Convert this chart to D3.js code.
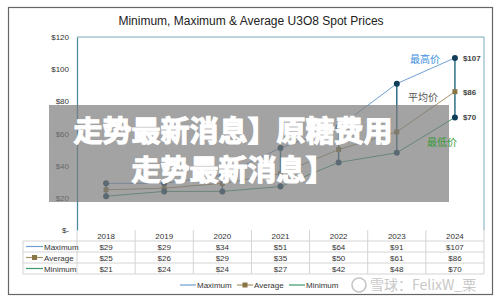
<!DOCTYPE html>
<html>
<head>
<meta charset="utf-8">
<script src="https://cdn.jsdelivr.net/npm/d3@7"></script>
<style>
  body { margin: 0; background: #fff; }
  svg { display: block; font-family: "Liberation Sans", Arial, sans-serif; }
</style>
</head>
<body>
<div id="chart"></div>
<script>
//// DATA

const YEARS = ["2018", "2019", "2020", "2021", "2022", "2023", "2024"];
const MAXIMUM = [29, 29, 34, 51, 64, 91, 107];
const AVERAGE = [25, 26, 29, 35, 50, 61, 86];
const MINIMUM = [21, 24, 24, 27, 42, 48, 70];
const Y_TICKS = [0, 20, 40, 60, 80, 100, 120];

const SERIES = [
  { name: "Maximum", values: MAXIMUM, color: "#6f9fd2", marker: "circle", cn: "最高价", cnColor: "#3d8fe0" },
  { name: "Average", values: AVERAGE, color: "#a89466", marker: "square", cn: "平均价", cnColor: "#555" },
  { name: "Minimum", values: MINIMUM, color: "#3c9a6c", marker: "circle", cn: "最低价", cnColor: "#3a9a3a" },
];

const TITLE = "Minimum, Maximum & Average U3O8 Spot Prices";
const OVERLAY_LINE1 = "走势最新消息】原糖费用";
const OVERLAY_LINE2 = "走势最新消息】";

//////////////
const W = 500, H = 306;
const PLOT = { left: 77, right: 484, top: 37, bottom: 230 };
const ROW_H = 11;
const TABLE_LEFT = 23;
const MARKER_DARK = "#0f3d5a";

const svg = d3.select("#chart").append("svg")
  .attr("width", W).attr("height", H)
  .attr("viewBox", `0 0 ${W} ${H}`);

const x = d3.scaleBand().domain(YEARS).range([PLOT.left, PLOT.right]);
const y = d3.scaleLinear().domain([0, 120]).range([PLOT.bottom, PLOT.top]);
const cx = d => x(d) + x.bandwidth() / 2;

// outer frame
svg.append("rect")
  .attr("x", 8.5).attr("y", 7.5).attr("width", 484).attr("height", 287)
  .attr("fill", "#fff").attr("stroke", "#666").attr("stroke-width", 1.2);

svg.append("text")
  .attr("x", 251).attr("y", 25)
  .attr("text-anchor", "middle")
  .attr("font-size", 12).attr("fill", "#222")
  .text(TITLE);

// plot frame
svg.append("path")
  .attr("d", `M${PLOT.left},${PLOT.top}H${PLOT.right}V${PLOT.bottom}`)
  .attr("fill", "none").attr("stroke", "#7aa9bb").attr("stroke-width", 1);

const yAxis = d3.axisLeft(y).tickValues(Y_TICKS).tickSize(0).tickPadding(8)
  .tickFormat(v => v === 0 ? "$-  " : "$" + v);
svg.append("g")
  .attr("transform", `translate(${PLOT.left},0)`)
  .call(yAxis)
  .call(g => g.select(".domain").attr("stroke", "#4f8aa0").attr("stroke-width", 1.3))
  .call(g => g.selectAll("text").attr("font-size", 8).attr("fill", "#333")
    .attr("font-family", "Liberation Sans, Arial, sans-serif"));

// high-low lines
svg.append("g").selectAll("line")
  .data(YEARS)
  .join("line")
  .attr("x1", cx).attr("x2", cx)
  .attr("y1", (d, i) => y(MAXIMUM[i]))
  .attr("y2", (d, i) => y(MINIMUM[i]))
  .attr("stroke", "#2f6f86").attr("stroke-width", 1.5);

// series lines + markers
const line = d3.line().x((v, i) => cx(YEARS[i])).y(v => y(v));
SERIES.forEach(s => {
  svg.append("path")
    .datum(s.values)
    .attr("d", line)
    .attr("fill", "none").attr("stroke", s.color).attr("stroke-width", 1);
  const g = svg.append("g");
  if (s.marker === "circle") {
    g.selectAll("circle").data(s.values).join("circle")
      .attr("cx", (v, i) => cx(YEARS[i])).attr("cy", v => y(v))
      .attr("r", 3).attr("fill", MARKER_DARK);
  } else {
    g.selectAll("rect").data(s.values).join("rect")
      .attr("x", (v, i) => cx(YEARS[i]) - 2.5).attr("y", v => y(v) - 2.5)
      .attr("width", 5).attr("height", 5).attr("fill", "#8a7544");
  }
});

// end labels
const last = YEARS.length - 1;
svg.append("g").selectAll("text")
  .data(SERIES)
  .join("text")
  .attr("x", cx(YEARS[last]) + 8)
  .attr("y", s => y(s.values[last]) + 3)
  .attr("font-size", 8).attr("font-weight", "bold").attr("fill", "#444")
  .text(s => "$" + s.values[last]);

// data table
const table = svg.append("g").attr("font-size", 8).attr("fill", "#333");
const gridColor = "#d4d4d4";
const nRows = SERIES.length + 1;
d3.range(1, nRows + 1).forEach(r => {
  const yy = PLOT.bottom + r * ROW_H;
  table.append("line")
    .attr("x1", TABLE_LEFT).attr("x2", PLOT.right)
    .attr("y1", yy).attr("y2", yy)
    .attr("stroke", gridColor).attr("stroke-width", 1);
});
table.append("line")
  .attr("x1", TABLE_LEFT).attr("x2", TABLE_LEFT)
  .attr("y1", PLOT.bottom + ROW_H).attr("y2", PLOT.bottom + nRows * ROW_H)
  .attr("stroke", gridColor);
d3.range(YEARS.length + 1).forEach(i => {
  const xx = PLOT.left + i * x.bandwidth();
  table.append("line")
    .attr("x1", xx).attr("x2", xx)
    .attr("y1", PLOT.bottom).attr("y2", PLOT.bottom + nRows * ROW_H)
    .attr("stroke", gridColor);
});
table.selectAll(".hdr").data(YEARS).join("text")
  .attr("class", "hdr")
  .attr("x", cx).attr("y", PLOT.bottom + 8.5)
  .attr("text-anchor", "middle").attr("fill", "#333")
  .text(d => d);
SERIES.forEach((s, r) => {
  const rowY = PLOT.bottom + (r + 1) * ROW_H;
  const keyY = rowY + ROW_H / 2;
  table.append("line")
    .attr("x1", TABLE_LEFT + 3).attr("x2", TABLE_LEFT + 20)
    .attr("y1", keyY).attr("y2", keyY)
    .attr("stroke", s.color).attr("stroke-width", 1.2);
  if (s.marker === "square") {
    table.append("rect")
      .attr("x", TABLE_LEFT + 9).attr("y", keyY - 2.5).attr("width", 5).attr("height", 5)
      .attr("fill", "#8a7544");
  }
  table.append("text")
    .attr("x", TABLE_LEFT + 21).attr("y", rowY + 8.5)
    .attr("fill", "#333")
    .text(s.name);
  table.selectAll(null).data(s.values).join("text")
    .attr("x", (v, i) => cx(YEARS[i])).attr("y", rowY + 8.5)
    .attr("text-anchor", "middle").attr("fill", "#333")
    .text(v => "$" + v);
});

// bottom legend
const LEGEND_X = [180, 237, 289];
const legend = svg.append("g").attr("font-size", 8).attr("fill", "#333");
SERIES.forEach((s, i) => {
  const lx = LEGEND_X[i], ly = 285;
  legend.append("line")
    .attr("x1", lx).attr("x2", lx + 16).attr("y1", ly).attr("y2", ly)
    .attr("stroke", s.color).attr("stroke-width", 1.2);
  if (s.marker === "square") {
    legend.append("rect")
      .attr("x", lx + 5.5).attr("y", ly - 2.5).attr("width", 5).attr("height", 5)
      .attr("fill", "#8a7544");
  }
  legend.append("text")
    .attr("x", lx + 17).attr("y", ly + 3)
    .attr("fill", "#333")
    .text(s.name);
});

// watermark
const wm = svg.append("g");
wm.append("circle")
  .attr("cx", 359).attr("cy", 285).attr("r", 7)
  .attr("fill", "none").attr("stroke", "#c4c4c4").attr("stroke-width", 1.6);
wm.append("text")
  .attr("x", 370).attr("y", 290)
  .attr("font-family", "Noto Sans CJK SC").attr("font-size", 14)
  .attr("fill", "#c8c8c8")
  .text("雪球：FelixW_栗");

// overlay banner
svg.append("rect")
  .attr("x", 49).attr("y", 105).attr("width", 400).attr("height", 97)
  .attr("fill", "#7c7c7c").attr("opacity", 0.7);
const banner = svg.append("g")
  .attr("font-family", "Noto Sans CJK SC").attr("font-weight", "bold")
  .attr("font-size", 29).attr("fill", "#fff").attr("stroke", "#fff")
  .attr("stroke-width", 1.2).attr("text-anchor", "middle");
banner.append("text").attr("x", 233).attr("y", 142).text(OVERLAY_LINE1);
banner.append("text").attr("x", 233).attr("y", 181).text(OVERLAY_LINE2);

// chinese annotations (drawn on top)
const CN_POS = [[425, 63], [423, 101], [442, 146]];
svg.append("g").selectAll("text")
  .data(SERIES)
  .join("text")
  .attr("x", (s, i) => CN_POS[i][0]).attr("y", (s, i) => CN_POS[i][1])
  .attr("text-anchor", "middle")
  .attr("font-family", "Noto Sans CJK SC").attr("font-size", 10)
  .attr("fill", s => s.cnColor)
  .text(s => s.cn);
</script>
</body>
</html>
